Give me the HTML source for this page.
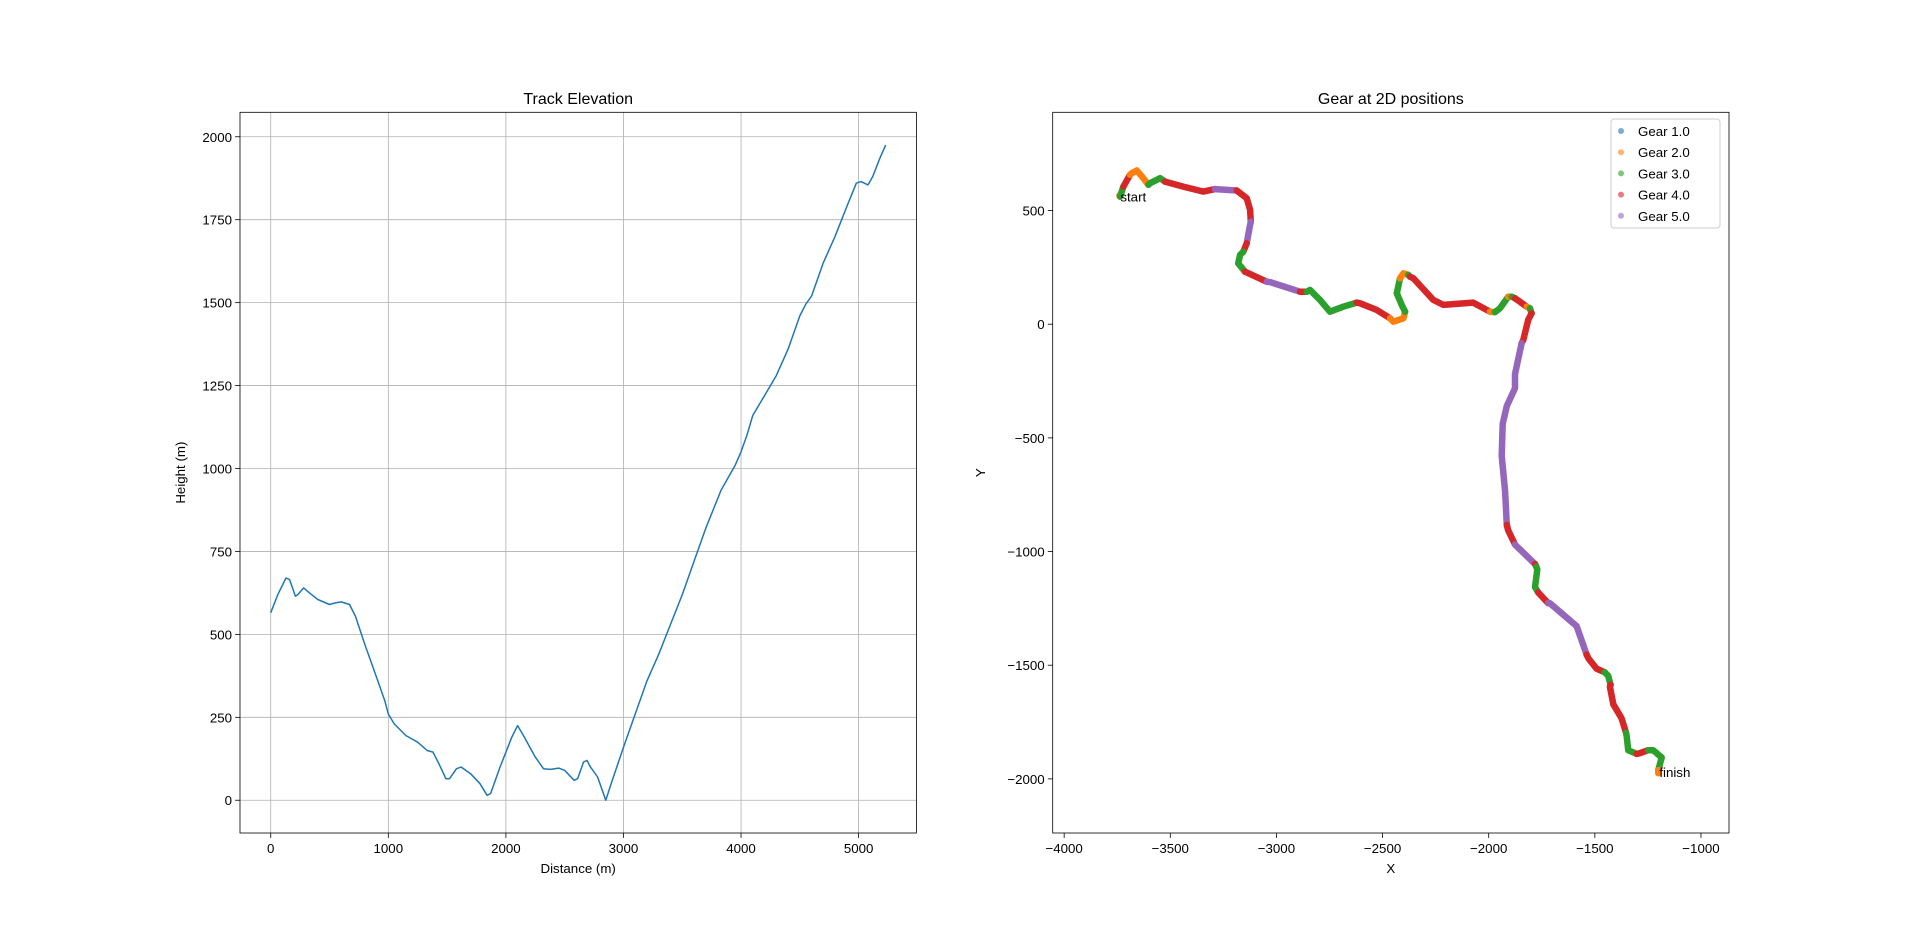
<!DOCTYPE html>
<html><head><meta charset="utf-8"><style>
html,body{margin:0;padding:0;background:#fff}
svg{display:block}
text{font-family:"Liberation Sans","DejaVu Sans",sans-serif;fill:#000}
</style></head><body>
<svg id="fig" width="1920" height="936" viewBox="0 0 1920 936" xmlns="http://www.w3.org/2000/svg"></svg>
<script>
// ---- Elevation chart data ----
const elevDist = [0,60,130,160,210,230,280,330,400,500,550,600,670,720,800,900,970,1000,1050,1150,1250,1330,1380,1430,1490,1520,1580,1620,1700,1780,1840,1870,1950,2050,2100,2150,2250,2320,2380,2450,2500,2580,2610,2660,2690,2720,2780,2850,2900,3000,3100,3200,3300,3400,3500,3600,3700,3830,3950,4000,4050,4100,4200,4300,4400,4500,4550,4600,4700,4800,4900,4980,5020,5080,5120,5180,5230];
const elevHeight = [565,620,670,665,615,620,640,625,605,590,595,598,590,555,470,370,300,260,230,195,175,150,145,110,65,65,95,100,80,50,15,20,100,190,225,195,130,95,93,97,90,60,65,115,120,100,70,0,55,160,260,360,440,530,620,720,820,935,1010,1050,1100,1160,1220,1280,1360,1460,1495,1520,1620,1700,1790,1860,1865,1855,1880,1935,1975];
const elevXTicks = [0,1000,2000,3000,4000,5000];
const elevYTicks = [0,250,500,750,1000,1250,1500,1750,2000];

// ---- Gear track data (segments in X/Y data units) ----
const gearSegGear = [2,3,4,2,3,4,5,4,5,4,3,4,5,4,3,4,2,3,2,3,4,2,3,2,3,4,2,3,4,5,4,5,4,3,4,5,4,3,4,3,4,3,2];
const gearSegX = [
[-3740,-3737],[-3737,-3721],[-3721,-3690],[-3690,-3682,-3658,-3627,-3603],[-3603,-3595,-3548,-3525],
[-3525,-3439,-3344,-3289],[-3289,-3187],[-3187,-3140,-3124,-3121],[-3121,-3124,-3140],[-3140,-3156],
[-3156,-3171,-3180,-3148],[-3148,-3046],[-3046,-3030,-2889],[-2889,-2857],[-2857,-2842,-2795,-2748,-2685,-2622],
[-2622,-2606,-2528,-2465],[-2465,-2449,-2402,-2394],[-2394,-2410,-2433,-2418],[-2418,-2402,-2379],[-2379,-2371],
[-2371,-2355,-2261,-2214,-2073,-1994],[-1994,-1971],[-1971,-1947,-1908],[-1908,-1892],[-1892,-1876],
[-1876,-1853,-1821],[-1821,-1806],[-1806,-1798],[-1798,-1814,-1837,-1845],
[-1845,-1876,-1876,-1915,-1934,-1939,-1923,-1915],[-1915,-1908,-1876],[-1876,-1868,-1782],
[-1782,-1776],[-1776,-1771,-1782,-1767],[-1767,-1759,-1720],[-1720,-1712,-1586,-1539],
[-1539,-1531,-1492,-1453],[-1453,-1437,-1426],[-1426,-1429,-1413,-1374,-1353],[-1353,-1350,-1343,-1303],
[-1303,-1288,-1249],[-1249,-1225,-1185,-1201],[-1201,-1201]
];
const gearSegY = [
[566,561],[561,605],[605,657],[657,664,676,642,613],[613,620,642,627],
[627,605,583,594],[594,588],[588,554,503,451],[451,437,356],[356,319],
[319,305,268,231],[231,187],[187,185,143],[143,143],[143,151,107,55,77,95],
[95,92,63,26],[26,11,26,55],[55,85,136,202],[202,224,217],[217,209],
[209,202,107,85,95,55],[55,53],[53,70,121],[121,121],[121,114],
[114,99,77],[77,70],[70,48],[48,19,-69,-84],
[-84,-220,-282,-360,-438,-579,-735,-883],[-883,-907,-969],[-969,-977,-1055],
[-1055,-1067],[-1067,-1079,-1156,-1180],[-1180,-1188,-1227],[-1227,-1227,-1328,-1453],
[-1453,-1469,-1515,-1531],[-1531,-1547,-1586],[-1586,-1594,-1672,-1734,-1797],[-1797,-1812,-1874,-1890],
[-1890,-1887,-1874],[-1874,-1874,-1906,-1961],[-1961,-1975]
];
const gearLabels = ["Gear 1.0","Gear 2.0","Gear 3.0","Gear 4.0","Gear 5.0"];
const gearXTicks = [-4000,-3500,-3000,-2500,-2000,-1500,-1000];
const gearYTicks = [500,0,-500,-1000,-1500,-2000];

const NS="http://www.w3.org/2000/svg";
const svg=document.getElementById('fig');
function mk(tag,attrs,parent){const e=document.createElementNS(NS,tag);for(const k in attrs)e.setAttribute(k,attrs[k]);(parent||svg).appendChild(e);return e;}
const colors={1:"#1f77b4",2:"#ff7f0e",3:"#2ca02c",4:"#d62728",5:"#9467bd"};
const FS=13.3, TS=16;

const L={x0:240,x1:916.4,y0:112.3,y1:833,dmin:-261.5,dmax:5491.5,hmin:-98.75,hmax:2073.75};
const R={x0:1052.7,x1:1729,y0:112.3,y1:833,xmin:-4054,xmax:-868,ymin:-2238,ymax:932};
const lx=v=>L.x0+(v-L.dmin)/(L.dmax-L.dmin)*(L.x1-L.x0);
const ly=v=>L.y1-(v-L.hmin)/(L.hmax-L.hmin)*(L.y1-L.y0);
const rx=v=>R.x0+(v-R.xmin)/(R.xmax-R.xmin)*(R.x1-R.x0);
const ry=v=>R.y1-(v-R.ymin)/(R.ymax-R.ymin)*(R.y1-R.y0);

// ---- Left chart ----
const gL=mk('g',{});


elevXTicks.forEach(t=>{
  const x=lx(t);
  const gl=mk('line',{x1:x,x2:x,y1:L.y0,y2:L.y1,stroke:'#b0b0b0','stroke-width':0.8},gL);
  
  
  mk('line',{x1:x,x2:x,y1:L.y1,y2:L.y1+4.9,stroke:'#000','stroke-width':0.8},gL);
  const tx=mk('text',{x:x,y:L.y1+20,'text-anchor':'middle','font-size':FS},gL);
  tx.textContent=t;
  
  
});
elevYTicks.forEach(t=>{
  const y=ly(t);
  const gl=mk('line',{x1:L.x0,x2:L.x1,y1:y,y2:y,stroke:'#b0b0b0','stroke-width':0.8},gL);
  
  
  mk('line',{x1:L.x0-4.9,x2:L.x0,y1:y,y2:y,stroke:'#000','stroke-width':0.8},gL);
  const tx=mk('text',{x:L.x0-8,y:y+5,'text-anchor':'end','font-size':FS},gL);
  tx.textContent=t;
  
  
});
const pts=elevDist.map((d,i)=>lx(d).toFixed(1)+','+ly(elevHeight[i]).toFixed(1)).join(' ');
const line=mk('polyline',{points:pts,fill:'none',stroke:'#1f77b4','stroke-width':1.5,'stroke-linejoin':'round'},gL);


const frL=mk('rect',{x:L.x0,y:L.y0,width:L.x1-L.x0,height:L.y1-L.y0,fill:'none',stroke:'#000','stroke-width':0.8},gL);


let t1=mk('text',{x:(L.x0+L.x1)/2,y:104,'text-anchor':'middle','font-size':TS},gL);t1.textContent='Track Elevation';

let t2=mk('text',{x:(L.x0+L.x1)/2,y:873,'text-anchor':'middle','font-size':FS},gL);t2.textContent='Distance (m)';

let t3=mk('text',{x:0,y:0,'text-anchor':'middle','font-size':FS,transform:`translate(185,${(L.y0+L.y1)/2}) rotate(-90)`},gL);t3.textContent='Height (m)';


// ---- Right chart ----
const gR=mk('g',{});


gearXTicks.forEach(t=>{
  const x=rx(t);
  mk('line',{x1:x,x2:x,y1:R.y1,y2:R.y1+4.9,stroke:'#000','stroke-width':0.8},gR);
  const tx=mk('text',{x:x,y:R.y1+20,'text-anchor':'middle','font-size':FS},gR);
  tx.textContent=(t<0?'\u2212':'')+Math.abs(t);
  
  
});
gearYTicks.forEach(t=>{
  const y=ry(t);
  mk('line',{x1:R.x0-4.9,x2:R.x0,y1:y,y2:y,stroke:'#000','stroke-width':0.8},gR);
  const tx=mk('text',{x:R.x0-8,y:y+5,'text-anchor':'end','font-size':FS},gR);
  tx.textContent=(t<0?'\u2212':'')+Math.abs(t);
  
  
});
gearSegGear.forEach((g,i)=>{
  const p=gearSegX[i].map((x,j)=>rx(x).toFixed(1)+','+ry(gearSegY[i][j]).toFixed(1)).join(' ');
  const s=mk('polyline',{points:p,fill:'none',stroke:colors[g],'stroke-width':6.5,'stroke-linecap':'round','stroke-linejoin':'round'},gR);
  
  
});
let sl=mk('text',{x:rx(-3740)+1,y:ry(566)+6,'font-size':FS},gR);sl.textContent='start';

let fl=mk('text',{x:rx(-1201)+1,y:ry(-1975)+4,'font-size':FS},gR);fl.textContent='finish';

const frR=mk('rect',{x:R.x0,y:R.y0,width:R.x1-R.x0,height:R.y1-R.y0,fill:'none',stroke:'#000','stroke-width':0.8},gR);


let t4=mk('text',{x:(R.x0+R.x1)/2,y:104,'text-anchor':'middle','font-size':TS},gR);t4.textContent='Gear at 2D positions';

let t5=mk('text',{x:(R.x0+R.x1)/2,y:873,'text-anchor':'middle','font-size':FS},gR);t5.textContent='X';

let t6=mk('text',{x:0,y:0,'text-anchor':'middle','font-size':FS,transform:`translate(985,${(R.y0+R.y1)/2}) rotate(-90)`},gR);t6.textContent='Y';


// legend
const lg=mk('g',{},gR);


mk('rect',{x:1611,y:119,width:109,height:109,rx:3,fill:'#fff','fill-opacity':0.8,stroke:'#ccc','stroke-width':1},lg);
gearLabels.forEach((lab,i)=>{
  const y=131+i*21.2;
  const c=mk('circle',{cx:1621,cy:y,r:3,fill:colors[i+1],'fill-opacity':0.6},lg);
  
  
  const tx=mk('text',{x:1638,y:y+5,'font-size':FS},lg);
  tx.textContent=lab;
  
  
});
</script>
</body></html>
